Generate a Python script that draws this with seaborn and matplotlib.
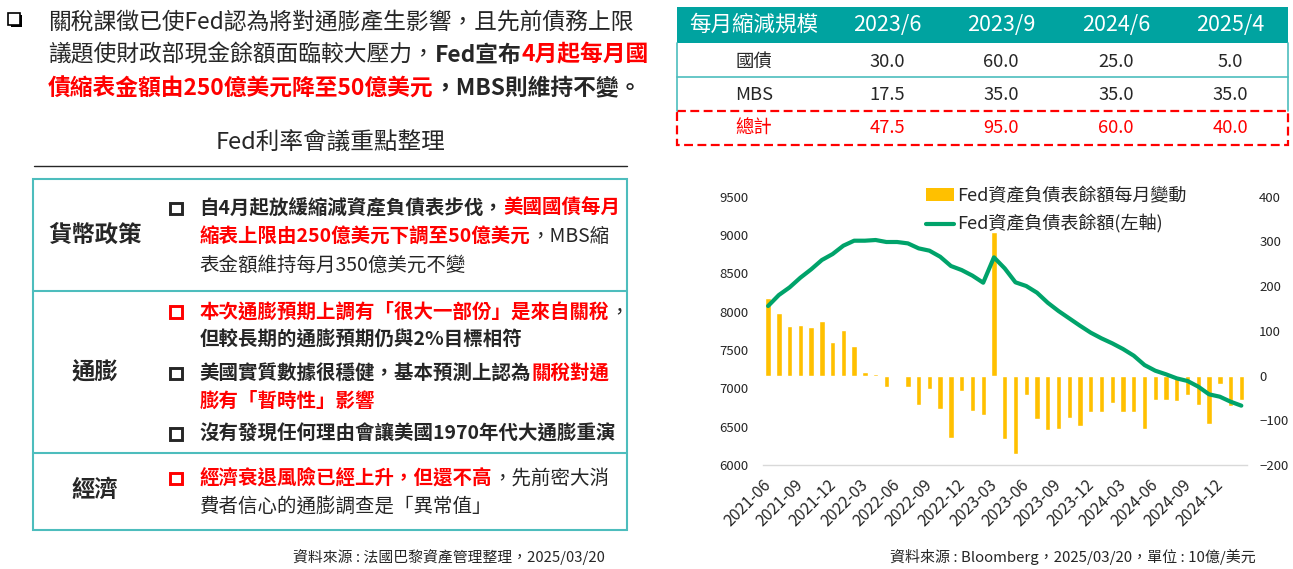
import numpy as np
import pandas as pd
import matplotlib
matplotlib.use("Agg")
import matplotlib.pyplot as plt
from matplotlib.patches import Rectangle, Patch
from matplotlib.lines import Line2D
import seaborn as sns

# ---------------- data ----------------
months = [str(p) for p in pd.period_range("2021-06", "2025-02", freq="M")]
monthly_change = [173, 141, 110, 114, 108, 123, 74, 101, 67, 9, 3, -25, -1, -25, -65, -31,
                  -74, -139, -34, -80, -89, 322, -142, -176, -44, -98, -122, -119, -94, -112,
                  -82, -82, -62, -82, -82, -119, -54, -54, -56, -44, -66, -109, -19, -69, -54]
balance = [8074, 8217, 8317, 8443, 8552, 8674, 8752, 8861, 8926, 8926, 8935, 8909, 8909, 8891,
           8826, 8796, 8717, 8596, 8543, 8470, 8378, 8709, 8565, 8383, 8335, 8248, 8117, 8009,
           7913, 7817, 7726, 7652, 7587, 7513, 7426, 7304, 7230, 7183, 7130, 7096, 7022, 6922,
           6891, 6826, 6774]
xtick_labels = ["2021-06", "2021-09", "2021-12", "2022-03", "2022-06", "2022-09", "2022-12",
                "2023-03", "2023-06", "2023-09", "2023-12", "2024-03", "2024-06", "2024-09",
                "2024-12"]
legend_labels = ["Fed資產負債表餘額每月變動", "Fed資產負債表餘額(左軸)"]

table_header = ["每月縮減規模", "2023/6", "2023/9", "2024/6", "2025/4"]
table_rows = [["國債", "30.0", "60.0", "25.0", "5.0"],
              ["MBS", "17.5", "35.0", "35.0", "35.0"],
              ["總計", "47.5", "95.0", "60.0", "40.0"]]

# ---------------- style ----------------
sns.set_style("white")
plt.rcParams["font.family"] = ["Noto Sans CJK TC", "DejaVu Sans"]
YELLOW = "#FFC000"
GREEN = "#00A36A"
TEAL = "#00A3A0"
LTEAL = "#4DBDBD"
RED = "#FF0000"
DARK = "#262626"

W, H = 1293, 569
fig = plt.figure(figsize=(W / 100, H / 100), dpi=100)

# ---------------- chart ----------------
x0, x1, ytop, ybot = 762.7, 1246.7, 196.7, 465.0
ax_bar = fig.add_axes([x0 / W, 1 - ybot / H, (x1 - x0) / W, (ybot - ytop) / H])
sns.barplot(x=months, y=monthly_change, color=YELLOW, saturation=1, width=0.5, ax=ax_bar)
ax_line = ax_bar.twinx()
sns.lineplot(x=np.arange(len(balance)), y=balance, color=GREEN, linewidth=3, ax=ax_line, legend=False)

ax_bar.set_xlim(-0.5, len(months) - 0.5)
ax_bar.set_ylim(-200, 400)
ax_bar.set_yticks(np.arange(-200, 401, 100))
ax_line.set_ylim(6000, 9500)
ax_line.set_yticks(np.arange(6000, 9501, 500))

ax_bar.yaxis.tick_right()
ax_line.yaxis.tick_left()
ax_bar.set_xlabel("")
ax_bar.set_ylabel("")
ax_line.set_ylabel("")

ticks = np.arange(-0.5, len(months), 3)
ax_bar.set_xticks(ticks)
ax_bar.set_xticklabels(xtick_labels + [""] * (len(ticks) - len(xtick_labels)),
                       rotation=45, ha="right", rotation_mode="anchor", fontsize=11.5, color=DARK)
ax_bar.tick_params(axis="x", length=5, width=1, color="#D9D9D9", pad=3)
ax_bar.tick_params(axis="y", length=0, pad=9, labelsize=9.5, labelcolor=DARK)
ax_line.tick_params(axis="y", length=0, pad=10, labelsize=9.5, labelcolor=DARK)
for sp in ax_bar.spines.values():
    sp.set_visible(False)
for sp in ax_line.spines.values():
    sp.set_visible(False)
ax_bar.spines["bottom"].set_visible(True)
ax_bar.spines["bottom"].set_color("#D9D9D9")
ax_bar.spines["bottom"].set_linewidth(1)

handles = [Patch(facecolor=YELLOW, edgecolor="none"), Line2D([0], [0], color=GREEN, lw=3)]
fig.legend(handles, legend_labels, loc="upper left", bbox_to_anchor=(926 / W, 1 - 187 / H),
           frameon=False, fontsize=13, handlelength=1.55, handletextpad=0.2,
           labelspacing=0.55, borderpad=0, borderaxespad=0, labelcolor=DARK)

# ---------------- overlay for slide text ----------------
ov = fig.add_axes([0, 0, 1, 1])
ov.set_xlim(0, W)
ov.set_ylim(H, 0)
ov.axis("off")
renderer = fig.canvas.get_renderer()


def runs(x, y, parts, size):
    for txt, col, wt in parts:
        t = ov.text(x, y, txt, color=col, fontsize=size, fontweight=wt, ha="left", va="center")
        bb = t.get_window_extent(renderer=renderer)
        x += bb.width


# top bullet (shadowed square)
ov.add_patch(Rectangle((10.5, 15), 11.5, 12, facecolor="black", edgecolor="black", lw=0))
ov.add_patch(Rectangle((8, 12.5), 11.5, 12, facecolor="white", edgecolor="black", lw=1.2))

TFS = 16.4
runs(48, 21.7, [("關稅課徵已使Fed認為將對通膨產生影響，且先前債務上限", DARK, "normal")], TFS)
runs(48, 55, [("議題使財政部現金餘額面臨較大壓力，", DARK, "normal"),
              ("Fed宣布", DARK, "bold"), ("4月起每月國", RED, "bold")], TFS)
runs(48, 89, [("債縮表金額由250億美元降至50億美元", RED, "bold"),
              ("，MBS則維持不變。", DARK, "bold")], TFS)

ov.text(330, 143.5, "Fed利率會議重點整理", fontsize=17, color=DARK, ha="center", va="center")
ov.plot([34, 627], [165.5, 165.5], color=DARK, lw=1)

# key points box
ov.add_patch(Rectangle((33, 178.5), 594, 351.5, facecolor="none", edgecolor=LTEAL, lw=1.5))
for yy in (290.7, 453.3):
    ov.plot([33, 627], [yy, yy], color=LTEAL, lw=1.5)
ov.text(95, 235, "貨幣政策", fontsize=16.8, fontweight="bold", color=DARK, ha="center", va="center")
ov.text(95, 373, "通膨", fontsize=16.8, fontweight="bold", color=DARK, ha="center", va="center")
ov.text(95, 490, "經濟", fontsize=16.8, fontweight="bold", color=DARK, ha="center", va="center")


def sq(y, col):
    ov.add_patch(Rectangle((170, y - 5.8), 11.6, 11.6, facecolor="white", edgecolor=col, lw=2.1))


FS = 14
sq(208.3, DARK)
runs(199.5, 208.3, [("自4月起放緩縮減資產負債表步伐，", DARK, "bold"), ("美國國債每月", RED, "bold")], FS)
runs(199.5, 236.7, [("縮表上限由250億美元下調至50億美元", RED, "bold"), ("，MBS縮", DARK, "normal")], FS)
runs(199.5, 265, [("表金額維持每月350億美元不變", DARK, "normal")], FS)
sq(311.7, RED)
runs(199.5, 311.7, [("本次通膨預期上調有「很大一部份」是來自關稅", RED, "bold"), ("，", DARK, "normal")], FS)
runs(199.5, 340, [("但較長期的通膨預期仍與2%目標相符", DARK, "bold")], FS)
sq(373.3, DARK)
runs(199.5, 373.3, [("美國實質數據很穩健，基本預測上認為", DARK, "bold"), ("關稅對通", RED, "bold")], FS)
runs(199.5, 401.7, [("膨有「暫時性」影響", RED, "bold")], FS)
sq(434, DARK)
runs(199.5, 434, [("沒有發現任何理由會讓美國1970年代大通膨重演", DARK, "bold")], FS)
sq(478.3, RED)
runs(199.5, 478.3, [("經濟衰退風險已經上升，但還不高", RED, "bold"), ("，先前密大消", DARK, "normal")], FS)
runs(199.5, 506.7, [("費者信心的通膨調查是「異常值」", DARK, "normal")], FS)

ov.text(605, 556.7, "資料來源 : 法國巴黎資產管理整理，2025/03/20", fontsize=10.7, color=DARK,
        ha="right", va="center")
ov.text(1256, 556.7, "資料來源 : Bloomberg，2025/03/20，單位 : 10億/美元", fontsize=10.8, color=DARK,
        ha="right", va="center")

# top-right table
tx0, tx1 = 677, 1288
ov.add_patch(Rectangle((tx0, 7), tx1 - tx0, 36, facecolor=TEAL, edgecolor="none"))
for xx in (tx0, tx1):
    ov.plot([xx, xx], [43, 111], color=LTEAL, lw=1.2)
ov.plot([tx0, tx1], [76.7, 76.7], color=LTEAL, lw=1.2)
ov.add_patch(Rectangle((tx0, 111), tx1 - tx0, 34, facecolor="none", edgecolor=RED, lw=1.6,
                       linestyle=(0, (4, 2))))
col_x = [753.7, 887.3, 1001, 1116, 1230]
for cx, h in zip(col_x, table_header):
    ov.text(cx, 25, h, fontsize=15.5, color="white", ha="center", va="center")
for ry, row, colr in zip([61.7, 95, 128.3], table_rows, [DARK, DARK, RED]):
    for cx, v in zip(col_x, row):
        ov.text(cx, ry, v, fontsize=13.2, color=colr, ha="center", va="center")

fig.savefig("out.png", dpi=100)
